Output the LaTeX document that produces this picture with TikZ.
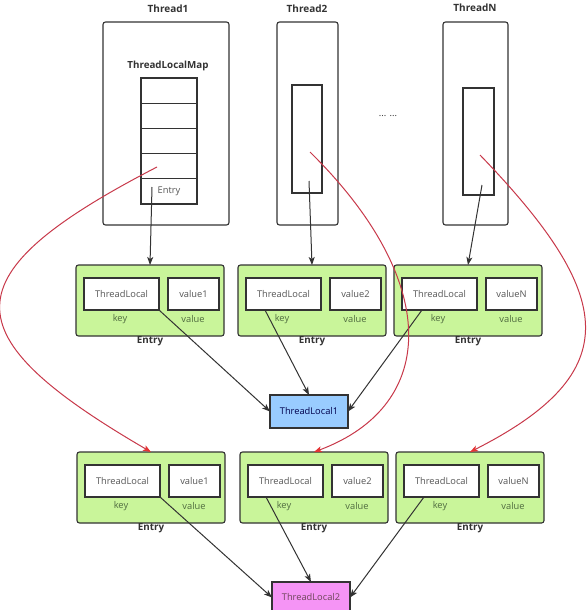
\documentclass[tikz,border=0pt]{standalone}
\usepackage{fontspec}
\setmainfont{Open Sans}
\usetikzlibrary{arrows.meta,calc}
\definecolor{greenfill}{HTML}{C9F59A}
\definecolor{bluefill}{HTML}{99CCFF}
\definecolor{pinkfill}{HTML}{F594F5}
\definecolor{edgegray}{HTML}{333333}
\definecolor{txtgray}{HTML}{555555}
\definecolor{keygreen}{HTML}{4F6B3F}
\definecolor{curvered}{HTML}{C8394A}
\definecolor{tipred}{HTML}{E53535}
\tikzset{
  every node/.style={inner sep=0pt, outer sep=0pt},
  threadbox/.style={draw=edgegray, line width=1.1pt, rounded corners=2.5pt, fill=white},
  plainbox/.style={draw=edgegray, line width=1.1pt, fill=white},
  greenbox/.style={draw=edgegray, line width=1.1pt, rounded corners=2.5pt, fill=greenfill},
  innerbox/.style={draw=edgegray, line width=1.2pt, fill=white, text=txtgray, font=\fontsize{9.3}{11}\selectfont},
  sublabel/.style={text=keygreen, font=\fontsize{9.3}{11}\selectfont},
  boldlabel/.style={text=edgegray, font=\fontsize{9.8}{11}\selectfont\bfseries},
  titlelabel/.style={text=edgegray, font=\fontsize{10}{12}\selectfont\bfseries},
  smalltext/.style={text=txtgray, font=\fontsize{9.3}{11}\selectfont},
  blackarrow/.style={draw=edgegray, line width=1pt, -{Stealth[length=8pt,width=6pt,inset=2pt]}},
  redarrow/.style={draw=curvered, line width=1pt, -{Stealth[length=8pt,width=6pt,inset=2pt,fill=tipred,color=tipred]}},
}
\newcommand\myentry[4]{%
\begin{scope}[shift={(#2,#3)}]
  \node[greenbox, minimum width=148pt, minimum height=71pt] (#1) at (74,35.5) {};
  \node[innerbox, minimum width=75pt, minimum height=32pt] (#1k) at (45.5,29) {ThreadLocal};
  \node[innerbox, minimum width=51pt, minimum height=32pt] (#1v) at (117.5,29) {#4};
  \node[sublabel] (#1kl) at (44,54.5) {key};
  \node[sublabel] (#1vl) at (117,54.5) {value};
  \node[boldlabel] (#1l) at (74,76) {Entry};
\end{scope}}
\begin{document}
\begin{tikzpicture}[x=1pt,y=-1pt]
\useasboundingbox (0,0) rectangle (588,610);
\fill[white] (0,0) rectangle (588,610);

% threads
\node[titlelabel] (t1title) at (168,9) {Thread1};
\node[threadbox, minimum width=126pt, minimum height=203pt] (t1) at (166,123.5) {};
\node[boldlabel] (maplabel) at (168,66) {ThreadLocalMap};
\node[plainbox, minimum width=56pt, minimum height=25.2pt] (m1) at (169,90.6) {};
\node[plainbox, minimum width=56pt, minimum height=25.2pt] (m2) at (169,115.8) {};
\node[plainbox, minimum width=56pt, minimum height=25.2pt] (m3) at (169,141) {};
\node[plainbox, minimum width=56pt, minimum height=25.2pt] (m4) at (169,166.2) {};
\node[plainbox, minimum width=56pt, minimum height=25.2pt] (m5) at (169,191.4) {};
\node[smalltext] (m5t) at (169,191) {Entry};

\node[titlelabel] (t2title) at (307,9) {Thread2};
\node[threadbox, minimum width=61pt, minimum height=203pt] (t2) at (307.5,123.5) {};
\node[plainbox, minimum width=30pt, minimum height=108pt] (t2in) at (307,139) {};

\node[titlelabel] (tntitle) at (475,7.5) {ThreadN};
\node[threadbox, minimum width=65pt, minimum height=203pt] (tn) at (475.5,123.5) {};
\node[plainbox, minimum width=31pt, minimum height=107pt] (tnin) at (478.5,141.5) {};

\node[smalltext, text=edgegray] (dots) at (388,116) {... ...};

% entries
\myentry{ea}{76}{265}{value1}
\myentry{eb}{238}{265}{value2}
\myentry{ec}{394}{265}{valueN}
\myentry{fa}{77}{452}{value1}
\myentry{fb}{240}{452}{value2}
\myentry{fc}{396}{452}{valueN}

% ThreadLocal objects
\node[draw=edgegray, line width=1.1pt, fill=bluefill, minimum width=78pt, minimum height=33pt,
      text=black!70!blue, font=\fontsize{9.3}{11}\selectfont] (tl1) at (309,411.5) {ThreadLocal1};
\node[draw=edgegray, line width=1.1pt, fill=pinkfill, minimum width=78pt, minimum height=31pt,
      text=black!65!magenta, font=\fontsize{9.3}{11}\selectfont] (tl2) at (311,597.5) {ThreadLocal2};

% start points
\coordinate (s1) at (152,187);
\coordinate (s2) at (309,181);
\coordinate (s3) at (482,185);
\coordinate (r1) at (157,167);
\coordinate (r2) at (310,152);
\coordinate (r3) at (480,155);

% thread -> entry
\draw[blackarrow] (s1) -- (ea.north);
\draw[blackarrow] (s2) -- (eb.north);
\draw[blackarrow] (s3) -- (ec.north);

% keys -> ThreadLocal1
\draw[blackarrow] (eak.south east) -- (tl1.west);
\draw[blackarrow] ($(ebk.south west)+(19,0)$) -- (tl1.north);
\draw[blackarrow] ($(eck.south west)+(20,0)$) -- (tl1.east);

% keys -> ThreadLocal2
\draw[blackarrow] (fak.south east) -- (tl2.west);
\draw[blackarrow] ($(fbk.south west)+(18,0)$) -- (tl2.north);
\draw[blackarrow] ($(fck.south west)+(20,0)$) -- (tl2.east);

% red curves
\draw[redarrow] (r1) .. controls (-52,275) and (-50,335) .. (fa.north);
\draw[redarrow] (r2) .. controls (440,280) and (440,405) .. (fb.north);
\draw[redarrow] (r3) .. controls (615,295) and (628,372) .. (fc.north);
\end{tikzpicture}
\end{document}
